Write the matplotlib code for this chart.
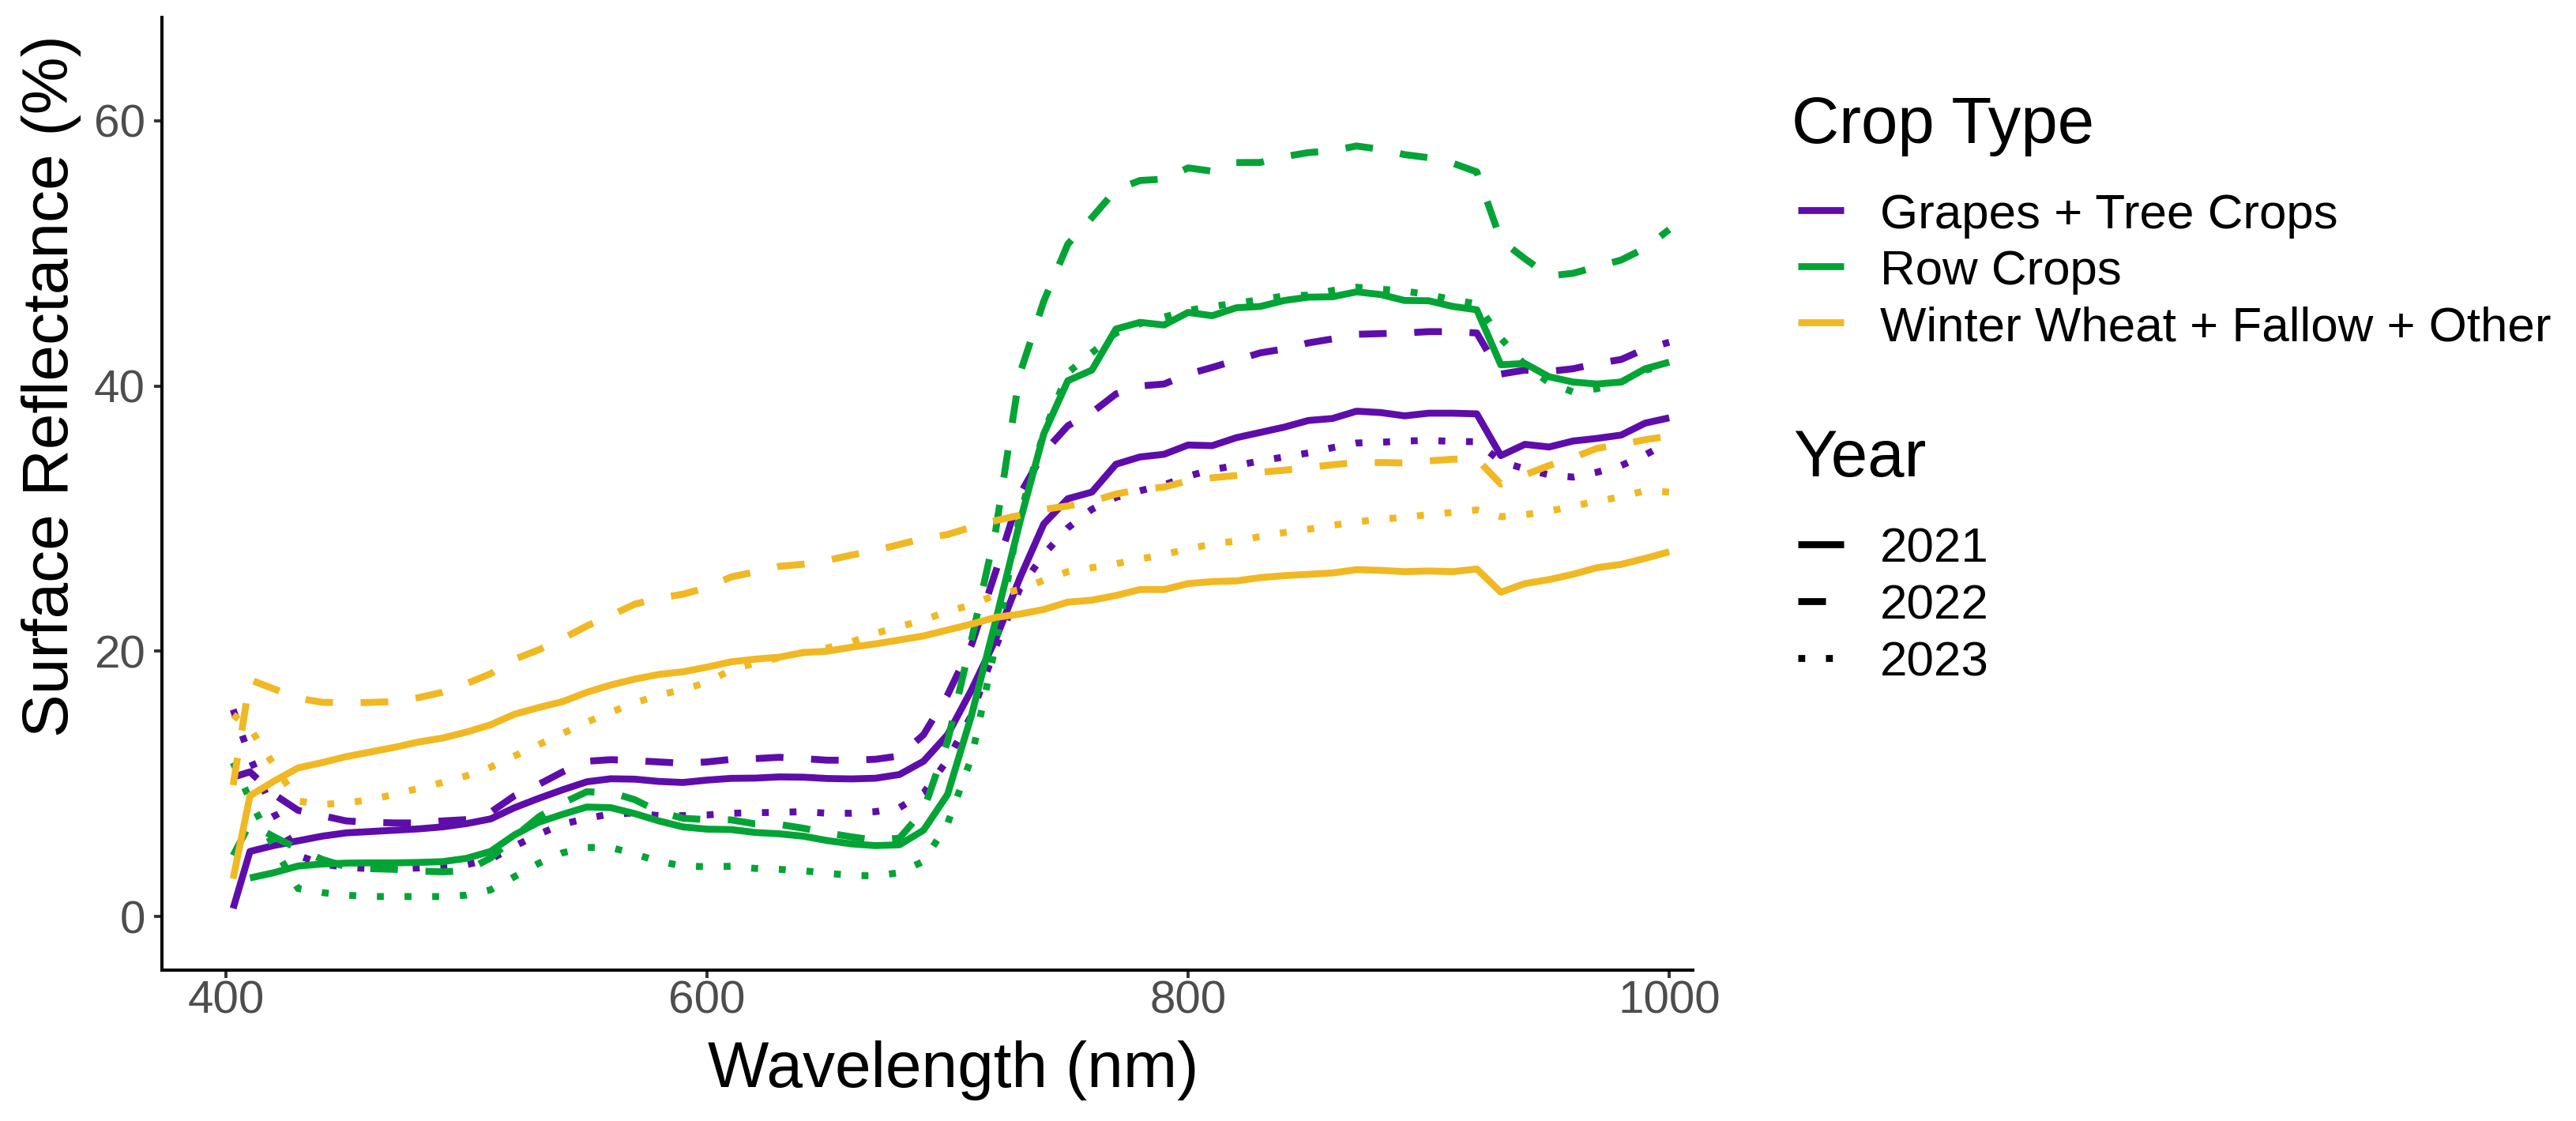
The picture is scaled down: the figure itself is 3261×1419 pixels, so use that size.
import numpy as np
import matplotlib
matplotlib.use("Agg")
import matplotlib.pyplot as plt
from matplotlib.lines import Line2D

plt.rcParams['font.family'] = ['Liberation Sans', 'DejaVu Sans']

# wavelength grid (nm)
wavelength = [403, 410, 420, 430, 440, 450, 460, 470, 480, 490,
              500, 510, 520, 530, 540, 550, 560, 570, 580, 590,
              600, 610, 620, 630, 640, 650, 660, 670, 680, 690,
              700, 710, 720, 730, 740, 750, 760, 770, 780, 790,
              800, 810, 820, 830, 840, 850, 860, 870, 880, 890,
              900, 910, 920, 930, 940, 950, 960, 970, 980, 990, 1000]

# surface reflectance (%)
grapes_2021 = [0.6, 4.9, 5.35, 5.7, 6.05, 6.3, 6.4, 6.5, 6.6, 6.75,
               7.0, 7.35, 8.2, 8.9, 9.55, 10.15, 10.38, 10.35, 10.18, 10.1,
               10.28, 10.41, 10.43, 10.52, 10.5, 10.4, 10.37, 10.42, 10.7, 11.7,
               13.7, 17.1, 20.9, 25.5, 29.6, 31.5, 32.0, 34.1, 34.65, 34.85,
               35.55, 35.5, 36.1, 36.5, 36.9, 37.4, 37.55, 38.1, 38.0, 37.75,
               37.95, 37.95, 37.9, 34.75, 35.6, 35.4, 35.85, 36.05, 36.3, 37.2, 37.6]
grapes_2022 = [10.5, 10.9, 9.2, 8.0, 7.6, 7.2, 7.1, 7.05, 7.05, 7.2,
               7.3, 7.85, 9.1, 9.95, 10.9, 11.7, 11.82, 11.75, 11.65, 11.55,
               11.65, 11.84, 11.9, 12.0, 11.9, 11.78, 11.78, 11.85, 12.1, 13.7,
               16.7, 20.5, 26.0, 31.8, 35.0, 37.0, 38.0, 39.4, 40.0, 40.15,
               40.9, 41.4, 41.95, 42.5, 42.8, 43.25, 43.55, 43.9, 43.95, 44.0,
               44.1, 44.1, 44.0, 40.9, 41.2, 41.1, 41.3, 41.7, 42.0, 42.8, 43.3]
grapes_2023 = [15.6, 12.0, 7.8, 4.6, 3.95, 3.7, 3.6, 3.6, 3.65, 3.75,
               3.9, 4.3, 5.3, 6.2, 6.95, 7.4, 7.72, 7.8, 7.6, 7.6,
               7.65, 7.78, 7.82, 7.85, 7.9, 7.78, 7.78, 7.9, 8.2, 9.3,
               11.8, 15.2, 20.3, 24.7, 27.3, 29.3, 30.7, 31.6, 32.1, 32.55,
               33.2, 33.7, 34.0, 34.35, 34.65, 34.95, 35.35, 35.7, 35.76, 35.85,
               35.9, 35.82, 35.8, 34.3, 33.75, 33.3, 33.13, 33.5, 34.0, 34.8, 35.8]

row_2021 = [np.nan, 2.9, 3.3, 3.8, 3.95, 4.02, 4.04, 4.04, 4.07, 4.13,
            4.38, 4.9, 6.15, 7.1, 7.7, 8.25, 8.2, 7.75, 7.2, 6.75,
            6.58, 6.55, 6.33, 6.23, 6.05, 5.72, 5.47, 5.34, 5.4, 6.5,
            9.2, 15.2, 22.3, 29.7, 36.4, 40.4, 41.2, 44.3, 44.8, 44.6,
            45.55, 45.3, 45.9, 46.0, 46.45, 46.7, 46.73, 47.1, 46.9, 46.45,
            46.43, 46.0, 45.75, 41.6, 41.7, 40.7, 40.3, 40.15, 40.3, 41.3, 41.8]
row_2022 = [4.6, 7.0, 6.0, 5.1, 4.3, 3.75, 3.6, 3.55, 3.42, 3.36,
            3.45, 4.4, 6.0, 7.5, 8.55, 9.4, 9.35, 8.8, 7.9, 7.4,
            7.3, 7.28, 6.98, 6.94, 6.65, 6.3, 6.0, 5.75, 5.9, 8.0,
            13.2, 20.9, 29.1, 40.9, 46.4, 50.7, 52.7, 54.8, 55.5, 55.6,
            56.45, 56.2, 56.85, 56.86, 57.3, 57.6, 57.75, 58.1, 57.85, 57.45,
            57.22, 56.8, 56.15, 51.0, 49.6, 48.3, 48.5, 49.0, 49.5, 50.4, 51.8]
row_2023 = [11.6, 8.8, 5.2, 2.1, 1.8, 1.6, 1.5, 1.5, 1.5, 1.5,
            1.6, 2.0, 3.0, 4.0, 4.8, 5.2, 5.2, 4.7, 4.15, 3.8,
            3.75, 3.78, 3.62, 3.55, 3.45, 3.25, 3.1, 3.05, 3.3, 4.15,
            7.0, 12.0, 20.5, 30.2, 36.5, 41.0, 42.5, 44.0, 44.7, 45.2,
            45.7, 46.0, 46.25, 46.5, 46.8, 46.85, 47.2, 47.45, 47.3, 47.15,
            46.9, 46.5, 46.2, 43.6, 41.6, 40.25, 39.55, 39.8, 40.3, 41.2, 41.6]

wheat_2021 = [2.85, 9.1, 10.2, 11.2, 11.6, 12.05, 12.4, 12.75, 13.15, 13.45,
              13.9, 14.45, 15.25, 15.75, 16.2, 16.9, 17.45, 17.9, 18.25, 18.45,
              18.8, 19.2, 19.4, 19.55, 19.9, 20.0, 20.3, 20.55, 20.85, 21.15,
              21.6, 22.05, 22.55, 22.8, 23.15, 23.7, 23.85, 24.2, 24.65, 24.65,
              25.1, 25.25, 25.3, 25.55, 25.7, 25.8, 25.9, 26.15, 26.1, 26.0,
              26.05, 26.0, 26.2, 24.45, 25.1, 25.4, 25.8, 26.3, 26.55, 27.0, 27.5]
wheat_2022 = [9.9, 17.85, 17.15, 16.45, 16.15, 16.1, 16.14, 16.2, 16.5, 16.9,
              17.55, 18.3, 19.4, 20.1, 20.95, 21.9, 22.7, 23.55, 24.0, 24.3,
              24.8, 25.6, 25.98, 26.4, 26.56, 26.85, 27.25, 27.6, 28.05, 28.5,
              28.8, 29.36, 29.85, 30.25, 30.7, 30.95, 31.3, 31.85, 32.2, 32.38,
              32.85, 33.08, 33.25, 33.5, 33.65, 33.85, 34.06, 34.23, 34.23, 34.2,
              34.35, 34.48, 34.5, 32.6, 33.3, 34.0, 34.6, 35.3, 35.6, 35.95, 36.23]
wheat_2023 = [15.2, 14.2, 11.4, 8.7, 8.45, 8.55, 8.8, 9.2, 9.65, 10.1,
              10.6, 11.25, 12.1, 12.95, 13.8, 14.65, 15.4, 16.1, 16.7, 17.1,
              17.65, 18.6, 19.1, 19.5, 19.9, 20.25, 20.7, 21.35, 21.85, 22.35,
              23.0, 23.5, 24.25, 24.65, 25.35, 26.0, 26.3, 26.6, 26.95, 27.3,
              27.7, 28.1, 28.3, 28.65, 28.95, 29.2, 29.5, 29.75, 29.95, 30.1,
              30.3, 30.47, 30.65, 30.15, 30.3, 30.55, 30.95, 31.3, 31.65, 32.1, 32.0]

crop_types = ['Grapes + Tree Crops', 'Row Crops', 'Winter Wheat + Fallow + Other']
years = ['2021', '2022', '2023']
crop_colors = ['#5E0DAB', '#03A435', '#F0B823']
year_styles = ['-', (0, (4, 4)), (0, (1, 3))]

series = [[grapes_2021, grapes_2022, grapes_2023],
          [row_2021, row_2022, row_2023],
          [wheat_2021, wheat_2022, wheat_2023]]

LW = 3.15

fig = plt.figure(figsize=(16.31, 7.095), dpi=200)
ax = fig.add_axes([0.06284, 0.1346, 0.5941, 0.8499])

for i, crop in enumerate(crop_types):
    for j, yr in enumerate(years):
        ax.plot(wavelength, series[i][j], color=crop_colors[i], linestyle=year_styles[j],
                linewidth=LW, solid_capstyle='butt', dash_capstyle='butt')

ax.set_xlim(373.4, 1009.8)
ax.set_ylim(-4.05, 67.8)
ax.set_xticks([400, 600, 800, 1000])
ax.set_yticks([0, 20, 40, 60])

for side in ['top', 'right']:
    ax.spines[side].set_visible(False)
for side in ['left', 'bottom']:
    ax.spines[side].set_linewidth(1.45)
    ax.spines[side].set_color('black')

ax.tick_params(axis='both', colors='#333333', width=1.4, length=3.6, labelsize=21,
               labelcolor='#4D4D4D')
ax.tick_params(axis='y', pad=4)
ax.tick_params(axis='x', pad=1)

ax.set_xlabel('Wavelength (nm)', fontsize=29.5)
ax.xaxis.set_label_coords(0.517, -0.1227)
ax.xaxis.label.set_va('baseline')
ax.set_ylabel('Surface Reflectance (%)', fontsize=29.5)
ax.yaxis.set_label_coords(-0.0722, 0.6128)
ax.yaxis.label.set_va('center')


# legends, placed in pixel coordinates of the output image
def fx(px):
    return px / 3262


def fy(py):
    return 1 - py / 1419


fig.text(fx(2268), fy(181), 'Crop Type', fontsize=30, va='baseline', ha='left')
for i, crop in enumerate(crop_types):
    fig.add_artist(Line2D([fx(2276), fx(2334)], [fy(266 + 71 * i)] * 2,
                          color=crop_colors[i], linewidth=LW, solid_capstyle='butt'))
    fig.text(fx(2380), fy(289 + 71 * i), crop, fontsize=22.3, va='baseline', ha='left')

fig.text(fx(2270), fy(603), 'Year', fontsize=30, va='baseline', ha='left')
for j, yr in enumerate(years):
    fig.add_artist(Line2D([fx(2276), fx(2334)], [fy(689 + 72 * j)] * 2,
                          color='black', linewidth=LW, linestyle=year_styles[j],
                          solid_capstyle='butt', dash_capstyle='butt'))
    fig.text(fx(2380), fy(712 + 72 * j), yr, fontsize=22.3, va='baseline', ha='left')

fig.savefig('out.png', dpi=200, facecolor='white')
